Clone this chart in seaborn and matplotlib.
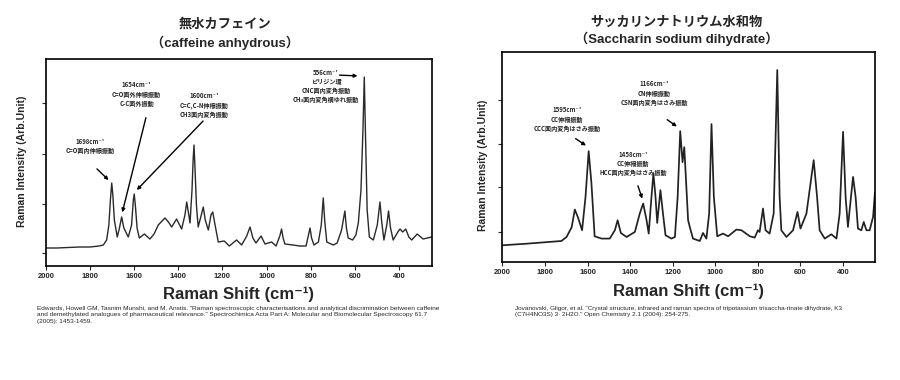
import matplotlib
matplotlib.use("Agg")
import matplotlib.pyplot as plt
import seaborn as sns

# caffeine anhydrous spectrum
caf_wn = [2000, 1950, 1900, 1850, 1800, 1760, 1740, 1725, 1715, 1708, 1702, 1697, 1690, 1677, 1667,
          1657, 1647, 1627, 1612, 1604, 1600, 1595, 1587, 1577, 1554, 1529, 1510, 1491, 1461, 1445,
          1430, 1408, 1385, 1370, 1362, 1354, 1347, 1338, 1333, 1329, 1325, 1318, 1310, 1296, 1287,
          1278, 1264, 1252, 1244, 1236, 1219, 1192, 1169, 1136, 1113, 1090, 1075, 1062, 1048, 1025,
          1007, 977, 957, 940, 932, 925, 917, 880, 850, 821, 810, 803, 796, 785, 765, 752, 743, 736,
          727, 698, 680, 660, 645, 638, 630, 610, 595, 584, 572, 563, 557, 551, 544, 534, 516, 498,
          486, 478, 468, 455, 447, 438, 426, 405, 395, 383, 369, 355, 342, 317, 290, 252]
caf_int = [18, 18, 18.5, 19, 19, 20, 21, 26, 41, 66, 83, 71, 46, 29, 38,
           49, 38, 29, 41, 66, 72, 61, 38, 28, 32, 27, 32, 41, 48, 44,
           39, 47, 37, 51, 64, 53, 43, 76, 106, 121, 101, 61, 39, 51, 59,
           46, 36, 51, 54, 44, 24, 25, 20, 26, 21, 30, 39, 28, 23, 30,
           22, 24, 20, 30, 37, 28, 22, 21, 20, 20, 31, 38, 28, 21, 24, 41, 68, 44,
           24, 21, 23, 36, 55, 38, 28, 26, 31, 43, 76, 136, 189, 126, 56, 29, 26, 41,
           64, 44, 26, 41, 55, 38, 26, 34, 37, 34, 37, 29, 26, 32, 27, 29]

# saccharin sodium dihydrate spectrum
sac_wn = [2000, 1880, 1723, 1699, 1675, 1660, 1645, 1626, 1610, 1595, 1582, 1567, 1535, 1496, 1472,
          1459, 1444, 1417, 1378, 1355, 1339, 1323, 1313, 1300, 1291, 1281, 1273, 1258, 1246, 1234,
          1206, 1190, 1177, 1165, 1154, 1146, 1136, 1128, 1120, 1105, 1073, 1058, 1042, 1029, 1018,
          1007, 991, 964, 940, 901, 877, 838, 815, 800, 792, 776, 764, 745, 726, 709, 698, 690, 666,
          635, 614, 600, 572, 538, 522, 510, 486, 455, 431, 416, 400, 388, 377, 366, 353, 341, 330,
          314, 303, 290, 275, 259, 250]
sac_int = [17, 18.7, 21.3, 25.3, 35, 52.7, 44.7, 32, 65, 111, 78.7, 26, 23.7, 23.7, 32,
           42, 29.3, 25.3, 30.3, 48.7, 58.7, 42, 28.7, 65.3, 88.7, 65.3, 39.3, 72, 48.7, 27,
           23.7, 25.3, 65.3, 131, 100, 115, 75, 42, 35.3, 23.7, 21.3, 29.3, 23.7, 48.7, 138,
           65.3, 26, 28.7, 26, 32.7, 32, 26, 24.7, 32, 30.3, 53.7, 32, 28.7, 48.7, 192, 65.3, 32, 25.3,
           32, 50.3, 33.7, 48.7, 102, 65.3, 32, 23.7, 28, 23.7, 48.7, 130.3, 65.3, 35.3, 58.7, 85.3, 65.3, 33.7,
           32, 40.3, 32, 32, 45.3, 70]

x_ticks = [2000, 1800, 1600, 1400, 1200, 1000, 800, 600, 400]

titles = ["無水カフェイン\n（caffeine anhydrous）",
          "サッカリンナトリウム水和物\n（Saccharin sodium dihydrate）"]

# (text, text position, arrow tail, arrow head) in data coords
caf_notes = [
    ("1698cm⁻¹\nC=O面内伸縮振動", (1800, 120), (1778, 99), (1707, 84)),
    ("1654cm⁻¹\nC=O面外伸縮振動\nC-C面外振動", (1589, 172), (1544, 151), (1657, 51)),
    ("1600cm⁻¹\nC=C,C-N伸縮振動\nCH3面内変角振動", (1284, 161), (1279, 147), (1597, 74)),
    ("556cm⁻¹\nピリジン環\nCNC面内変角振動\nCH₃面内変角横ゆれ振動", (730, 180), (682, 191), (575, 190)),
]
sac_notes = [
    ("1595cm⁻¹\nCC伸縮振動\nCCC面内変角はさみ振動", (1698, 143), (1667, 125), (1597, 115)),
    ("1458cm⁻¹\nCC伸縮振動\nHCC面内変角はさみ振動", (1386, 99), (1368, 79), (1339, 61)),
    ("1166cm⁻¹\nCN伸縮振動\nCSN面内変角はさみ振動", (1288, 169), (1237, 144), (1170, 134)),
]

refs = [
    'Edwards, Howell GM, Tasnim Munshi, and M. Anstis. "Raman spectroscopic characterisations and analytical discrimination between caffeine\n'
    'and demethylated analogues of pharmaceutical relevance." Spectrochimica Acta Part A: Molecular and Biomolecular Spectroscopy 61.7\n'
    '(2005): 1453-1459.',
    'Jovanovski, Gligor, et al. "Crystal structure, infrared and raman spectra of tripotassium trisaccha-rinate dihydrate, K3\n'
    '(C7H4NO3S) 3· 2H2O." Open Chemistry 2.1 (2004): 254-275.',
]

sns.set_style("ticks")
plt.rcParams["font.family"] = ["Liberation Sans", "Noto Sans CJK JP", "DejaVu Sans"]
cjk = ["Noto Sans CJK JP", "DejaVu Sans"]
xl_font = ["Liberation Sans", "DejaVu Sans"]

fig = plt.figure(figsize=(9, 3.8), dpi=100)
ax1 = fig.add_axes([0.0511, 0.300, 0.4289, 0.5447])
ax2 = fig.add_axes([0.5583, 0.3097, 0.4139, 0.5535])

sns.lineplot(x=caf_wn, y=caf_int, ax=ax1, color="#2a2a2a", lw=1.0)
sns.lineplot(x=sac_wn, y=sac_int, ax=ax2, color="#222222", lw=1.25)

ax1.set_ylim(0, 207)
ax1.set_yticks([13, 62, 112, 163])
ax2.set_ylim(0, 210)
ax2.set_yticks([30.5, 75, 118.5, 162])

for ax, notes in [(ax1, caf_notes), (ax2, sac_notes)]:
    ax.set_xlim(2000, 250)
    ax.set_xticks(x_ticks)
    ax.set_xticklabels([str(t) for t in x_ticks], fontsize=5.5, fontweight="bold")
    ax.set_yticklabels([])
    ax.tick_params(direction="out", length=3, width=0.8, pad=2)
    for s in ax.spines.values():
        s.set_visible(True)
        s.set_linewidth(1.2)
        s.set_color("black")
    ax.set_xlabel("Raman Shift (cm⁻¹)", fontsize=12, fontweight="bold", labelpad=5,
                  family=xl_font)
    ax.set_ylabel("")
    for txt, tpos, tail, head in notes:
        ax.text(tpos[0], tpos[1], txt, ha="center", va="center", fontsize=4.4,
                fontweight="bold", family=cjk, linespacing=1.35)
        ax.annotate("", xy=head, xytext=tail,
                    arrowprops=dict(arrowstyle="-|>", color="black", lw=1.0, mutation_scale=5))

fig.text(0.25, 0.91, titles[0], ha="center", va="center", fontsize=9.5, fontweight="bold",
         linespacing=1.45)
fig.text(0.752, 0.917, titles[1], ha="center", va="center", fontsize=9.5, fontweight="bold",
         linespacing=1.25)

fig.text(0.025, 0.575, "Raman Intensity (Arb.Unit)", rotation=90, ha="center", va="center",
         fontsize=7.5, fontweight="bold")
fig.text(0.537, 0.565, "Raman Intensity (Arb.Unit)", rotation=90, ha="center", va="center",
         fontsize=7.5, fontweight="bold")

fig.text(0.041, 0.172, refs[0], ha="left", va="center", fontsize=4.65, linespacing=1.4)
fig.text(0.572, 0.18, refs[1], ha="left", va="center", fontsize=4.6, linespacing=1.4)

fig.savefig("out.png", dpi=100)
